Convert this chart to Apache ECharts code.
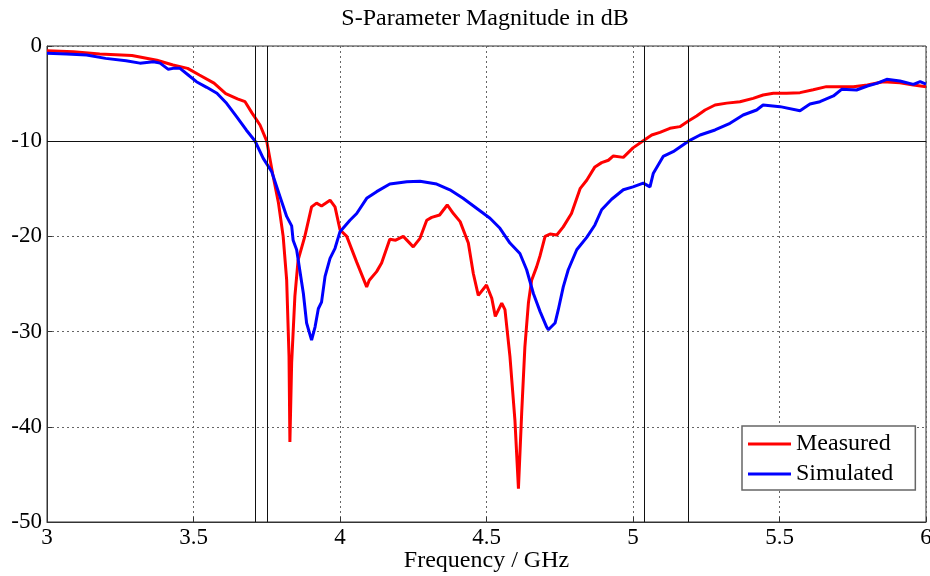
<!DOCTYPE html>
<html>
<head>
<meta charset="utf-8">
<script src="https://cdn.jsdelivr.net/npm/echarts@6/dist/echarts.min.js"></script>
<style>
  html, body { margin: 0; padding: 0; background: #fff; }
  #chart { width: 930px; height: 576px; }
</style>
</head>
<body>
<div id="chart"></div>
<script>
// Measured S11 (GHz, dB)
const measuredFreq = [3.00,3.09,3.18,3.29,3.375,3.43,3.48,3.52,3.57,3.61,3.65,3.676,3.70,3.727,3.75,3.77,3.79,3.806,3.818,3.826,3.829,3.835,3.846,3.857,3.88,3.903,3.92,3.937,3.966,3.983,4.0,4.023,4.057,4.091,4.10,4.125,4.142,4.17,4.19,4.216,4.25,4.273,4.296,4.313,4.34,4.366,4.387,4.41,4.438,4.455,4.472,4.50,4.518,4.53,4.552,4.563,4.58,4.597,4.609,4.62,4.631,4.643,4.654,4.671,4.683,4.70,4.717,4.74,4.762,4.79,4.82,4.842,4.87,4.893,4.916,4.933,4.967,5.0,5.035,5.064,5.092,5.126,5.16,5.189,5.217,5.246,5.28,5.32,5.365,5.41,5.444,5.479,5.524,5.57,5.615,5.66,5.706,5.752,5.8,5.854,5.911,5.957,6.0];
const measuredDb = [-0.5,-0.6,-0.85,-1.0,-1.5,-2.0,-2.35,-3.05,-3.9,-5.0,-5.55,-5.85,-7.05,-8.3,-10,-13.4,-16.5,-20,-24.6,-32.6,-41.6,-33.3,-26.3,-22.5,-20,-16.9,-16.5,-16.8,-16.2,-16.9,-19.3,-20,-22.7,-25.3,-24.6,-23.7,-22.8,-20.3,-20.4,-20,-21.1,-20.2,-18.3,-18.0,-17.75,-16.7,-17.6,-18.45,-20.7,-23.9,-26.2,-25.1,-26.5,-28.4,-27.0,-27.7,-32.6,-39.3,-46.5,-38.6,-31.6,-27.0,-24.6,-23.2,-22,-20,-19.75,-19.85,-19,-17.6,-14.95,-14.1,-12.7,-12.25,-12.0,-11.55,-11.7,-10.7,-9.95,-9.35,-9.07,-8.65,-8.47,-7.88,-7.35,-6.72,-6.2,-6.0,-5.85,-5.5,-5.15,-4.97,-4.97,-4.9,-4.6,-4.27,-4.27,-4.27,-4.1,-3.75,-3.85,-4.1,-4.27];

// Simulated S11 (GHz, dB)
const simulatedFreq = [3.0,3.067,3.135,3.2,3.27,3.317,3.363,3.386,3.414,3.43,3.454,3.482,3.51,3.545,3.58,3.613,3.647,3.68,3.71,3.738,3.767,3.795,3.818,3.835,3.84,3.852,3.875,3.886,3.903,3.915,3.926,3.937,3.949,3.966,3.983,4.0,4.034,4.057,4.091,4.125,4.17,4.228,4.273,4.33,4.375,4.42,4.466,4.512,4.546,4.58,4.614,4.637,4.66,4.683,4.705,4.711,4.734,4.745,4.762,4.779,4.808,4.842,4.87,4.893,4.927,4.967,5.0,5.035,5.058,5.069,5.103,5.137,5.189,5.229,5.28,5.331,5.376,5.422,5.444,5.502,5.57,5.604,5.638,5.684,5.712,5.763,5.8,5.832,5.866,5.911,5.957,5.98,6.0];
const simulatedDb = [-0.77,-0.84,-0.95,-1.3,-1.54,-1.8,-1.65,-1.8,-2.45,-2.35,-2.35,-3.05,-3.75,-4.34,-4.97,-6.02,-7.42,-8.82,-9.98,-11.8,-13.2,-15.8,-17.9,-18.9,-20.4,-21.4,-26,-29.1,-30.9,-29.5,-27.6,-26.9,-24.2,-22.3,-21.25,-19.5,-18.3,-17.6,-16.0,-15.3,-14.5,-14.25,-14.2,-14.5,-15.1,-16,-17.05,-18.1,-19.15,-20.7,-21.8,-23.5,-26,-27.9,-29.5,-29.8,-29.1,-27.7,-25.3,-23.5,-21.4,-20.1,-18.8,-17.2,-16.1,-15.1,-14.8,-14.4,-14.8,-13.4,-11.6,-11.1,-10,-9.35,-8.82,-8.12,-7.25,-6.72,-6.2,-6.37,-6.8,-6.1,-5.85,-5.25,-4.55,-4.62,-4.2,-3.92,-3.5,-3.68,-4.03,-3.75,-4.0];

// -10 dB bandwidth markers
const bandEdgesGHz = [3.71, 3.75, 5.036, 5.188];
const thresholdDb = [-10];

const seriesNames = ['Measured', 'Simulated'];
const titleText = 'S-Parameter Magnitude in dB';
const xAxisName = 'Frequency / GHz';

const serif = '"Liberation Serif", "DejaVu Serif", serif';
const zip = (xs, ys) => xs.map((x, i) => [x, ys[i]]);

const chart = echarts.init(document.getElementById('chart'), null, { renderer: 'canvas' });

const gridLine = { show: true, lineStyle: { color: '#666', type: [2, 3], width: 1 } };
const markers = {
  silent: true,
  symbol: ['none', 'none'],
  label: { show: false },
  lineStyle: { color: '#111', type: 'solid', width: 1 },
  data: bandEdgesGHz.map(v => ({ xAxis: v })).concat(thresholdDb.map(v => ({ yAxis: v })))
};

chart.setOption({
  animation: false,
  backgroundColor: '#fff',
  title: {
    text: titleText,
    left: 485, top: 7, textAlign: 'center', padding: 0,
    textStyle: { fontFamily: serif, fontSize: 24, fontWeight: 'normal', color: '#000' }
  },
  grid: {
    left: 47, right: 4, top: 46, bottom: 54,
    outerBoundsMode: 'none',
    containLabel: false,
    show: true, borderColor: '#333', borderWidth: 1, backgroundColor: 'transparent'
  },
  legend: {
    orient: 'vertical',
    left: 742, top: 426,
    padding: [6, 22, 4, 6],
    itemGap: 6,
    itemWidth: 43, itemHeight: 3,
    icon: 'rect',
    backgroundColor: '#fff',
    borderColor: '#666', borderWidth: 1.5,
    textStyle: { fontFamily: serif, fontSize: 24, color: '#000' },
    data: seriesNames
  },
  xAxis: {
    type: 'value', min: 3, max: 6, interval: 0.5,
    name: xAxisName, nameLocation: 'middle', nameGap: 27,
    nameMoveOverlap: false,
    nameTextStyle: { fontFamily: serif, fontSize: 24, color: '#000', verticalAlign: 'top' },
    axisLine: { show: true, onZero: false, lineStyle: { color: '#333' } },
    axisTick: { show: true, inside: true, length: 5, lineStyle: { color: '#333' } },
    axisLabel: { fontFamily: serif, fontSize: 23, color: '#000', margin: 4,
      formatter: v => String(v) },
    splitLine: gridLine
  },
  yAxis: {
    type: 'value', min: -50, max: 0, interval: 10,
    axisLine: { show: true, onZero: false, lineStyle: { color: '#333' } },
    axisTick: { show: true, inside: true, length: 5, lineStyle: { color: '#333' } },
    axisLabel: { fontFamily: serif, fontSize: 23, color: '#000', margin: 5 },
    splitLine: gridLine
  },
  series: [
    {
      name: seriesNames[0], type: 'line', data: zip(measuredFreq, measuredDb),
      showSymbol: false, symbol: 'none', color: '#ff0000',
      lineStyle: { color: '#ff0000', width: 3 },
      markLine: markers, z: 3
    },
    {
      name: seriesNames[1], type: 'line', data: zip(simulatedFreq, simulatedDb),
      showSymbol: false, symbol: 'none', color: '#0000ff',
      lineStyle: { color: '#0000ff', width: 3 }, z: 4
    }
  ]
});
</script>
</body>
</html>
